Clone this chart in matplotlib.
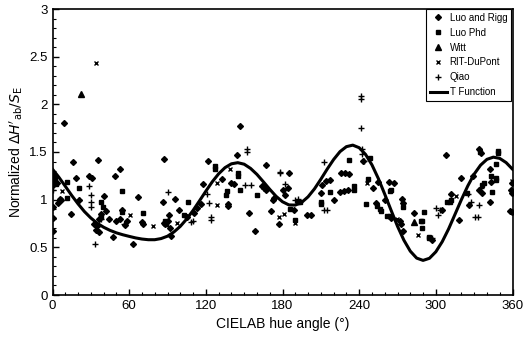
import matplotlib
matplotlib.use("Agg")
import matplotlib.pyplot as plt
from matplotlib.ticker import MultipleLocator, FormatStrFormatter

plt.rcParams['font.family'] = ['Liberation Sans', 'DejaVu Sans']

# --- datos ---
# Luo and Rigg (rombos)
LR_HUE = [0.5, 0.5, 0.5, 0.5, 0.5, 3.7, 5.5, 4.4, 6.3, 8.9, 14.1, 15.9, 18.5, 21.1, 28.4, 31, 35.7,
          40.2, 48.8, 52.7, 54.5, 36, 38, 32.3, 35, 33.8, 36.3, 47.5, 50, 53, 57, 44, 42, 66.8, 62.8,
          70, 71, 58, 87.6, 86.3, 95.5, 91, 87, 88, 90, 92, 93, 98.8, 105, 110.6, 113.2, 116.3, 117.9,
          121.5, 132.8, 146.6, 144, 140, 142, 137, 137.5, 154.1, 158.3, 166.7, 164, 165.5, 167, 171.1,
          173.2, 185.4, 172.7, 177, 180, 182, 184, 189, 199.3, 202.6, 210, 211, 214, 217.5, 220, 225,
          228, 231, 226, 229, 232, 251, 254.6, 253, 260.6, 263, 243, 267, 273.6, 274, 265.3, 272, 273,
          274, 283, 297, 305, 308, 319.8, 312, 318, 326, 329.2, 333.6, 335, 334, 336, 342.2, 343.5,
          342.7, 358.4, 359.6, 359.6, 359.6, 359.2]
LR_VAL = [1.20, 1.15, 0.92, 0.81, 0.67, 1.18, 1.01, 0.97, 1.00, 1.80, 0.85, 1.39, 1.23, 1.00, 1.25, 1.23, 1.42,
          1.04, 1.25, 1.32, 0.89, 0.80, 0.85, 0.75, 0.72, 0.68, 0.66, 0.61, 0.78, 0.80, 0.73, 0.80, 0.88, 1.03, 0.53,
          0.77, 0.75, 0.78, 1.43, 0.98, 1.01, 0.84, 0.76, 0.74, 0.78, 0.70, 0.62, 0.89, 0.82, 0.86, 0.91, 0.95, 1.16,
          1.41, 1.22, 1.77, 1.47, 1.18, 1.16, 0.95, 0.93, 0.86, 0.67, 1.36, 1.14, 1.12, 1.10, 0.88,
          1.02, 1.28, 1.00, 0.75, 1.10, 1.05, 1.12, 0.89, 0.84, 0.84, 1.07, 1.15, 1.20, 1.21, 1.00, 1.08,
          1.09, 1.10, 1.28, 1.28, 1.27, 1.12, 1.19, 0.97, 1.00, 1.19, 1.41, 1.18, 1.01, 0.96, 0.81, 0.78, 0.75,
          0.67, 0.86, 0.58, 0.89, 1.47, 1.23, 1.06, 0.79, 0.94, 1.25, 1.53, 1.49, 1.10, 1.07, 1.32, 1.19,
          0.98, 0.88, 0.87, 1.17, 1.07, 1.10]

# Luo Phd (cuadrados)
LP_HUE = [2, 3, 11.5, 11.5, 21.1, 38.3, 39.7, 37.6, 54.5, 54.5, 71, 88, 88.5, 102.7, 106.2, 127, 127,
          145, 145, 146.6, 136.2, 135.4, 160.2, 185.7, 192, 194, 190, 210, 210, 217, 232.4, 235.8,
          235.8, 248.3, 247, 245, 254, 256, 257, 262, 264, 264.5, 265, 274, 290.5, 288, 289, 289,
          294.4, 295, 308.8, 311, 312, 324.5, 336, 338, 343.5, 344, 347, 347, 347.4, 348.5, 348.5, 334.5]
LP_VAL = [1.22, 1.16, 1.19, 1.02, 1.12, 0.98, 0.92, 0.82, 1.09, 0.87, 0.86, 0.78, 0.75, 0.84, 0.98, 1.32, 1.35,
          1.28, 1.25, 1.10, 1.09, 1.05, 1.05, 0.90, 0.98, 0.98, 0.79, 0.95, 0.98, 1.08, 1.42, 1.14,
          1.10, 1.44, 1.22, 0.95, 0.93, 0.90, 0.88, 0.83, 0.83, 1.09, 1.10, 0.92, 0.87, 0.78, 0.78, 0.70,
          0.61, 0.60, 0.98, 0.98, 1.00, 1.07, 1.15, 1.18, 1.25, 1.08, 1.21, 1.23, 1.37, 1.51, 1.49, 1.50]

# Witt (triangulos)
WITT_HUE = [22.4, 1, 283.3]
WITT_VAL = [2.11, 1.27, 0.77]

# RIT-DuPont (cruces x)
RIT_HUE = [34.2, 7.6, 78.8, 97.6, 128.9, 138.8, 128.9, 177, 181, 190, 246.2, 269.7, 285.8, 316.1,
           359.6, 60.3]
RIT_VAL = [2.43, 1.09, 0.72, 0.76, 1.18, 1.32, 0.94, 0.82, 0.85, 0.76, 1.18, 0.80, 0.63, 1.04,
           1.20, 0.84]

# Qiao (cruces +)
QIAO_HUE = [0.5, 28.4, 30.5, 30.5, 30.5, 33.1, 21, 38, 56, 90.2, 108, 110, 121, 122.3, 124, 124,
            151, 155, 152.3, 152.5, 177.9, 178.4, 182.3, 190, 192, 212.8, 212.6, 215, 241.8, 241.8,
            241.8, 242, 242.3, 244, 300.2, 302, 303.6, 297, 327.9, 333.9, 330.4, 333, 335, 325]
QIAO_VAL = [1.10, 1.14, 1.05, 0.98, 0.92, 0.53, 1.00, 0.80, 0.75, 1.08, 0.77, 0.78, 1.06, 0.96, 0.82, 0.79,
            1.15, 1.15, 1.53, 1.50, 1.28, 1.29, 1.16, 1.00, 1.01, 1.39, 0.89, 0.89, 2.09, 2.06,
            1.75, 1.53, 1.48, 1.41, 0.91, 0.84, 0.89, 0.60, 0.98, 0.94, 0.82, 0.82, 1.12, 1.06]

# T Function, leida cada 5 grados
T_HUE = list(range(0, 361, 5))
T_VAL = [1.320, 1.235, 1.141, 1.045, 0.956, 0.875, 0.808, 0.753, 0.711, 0.678, 0.652, 0.632, 0.615,
         0.599, 0.587, 0.580, 0.580, 0.592, 0.617, 0.661, 0.720, 0.797, 0.887, 0.987, 1.089, 1.187,
         1.271, 1.336, 1.376, 1.388, 1.372, 1.328, 1.265, 1.188, 1.109, 1.035, 0.978, 0.945, 0.943,
         0.971, 1.030, 1.113, 1.214, 1.321, 1.421, 1.504, 1.556, 1.572, 1.545, 1.475, 1.365, 1.222,
         1.058, 0.888, 0.721, 0.575, 0.460, 0.387, 0.363, 0.385, 0.453, 0.559, 0.693, 0.846, 1.000,
         1.144, 1.268, 1.362, 1.423, 1.446, 1.433, 1.389, 1.320]

fig = plt.figure(figsize=(5.27, 3.40), dpi=100)
ax = fig.add_axes([52.5 / 527, 45 / 340, 460 / 527, 286 / 340])

ax.plot(LR_HUE, LR_VAL, 'D', color='black', markersize=3.0, linestyle='none', label='Luo and Rigg')
ax.plot(LP_HUE, LP_VAL, 's', color='black', markersize=3.3, linestyle='none', label='Luo Phd')
ax.plot(WITT_HUE, WITT_VAL, '^', color='black', markersize=4.0, linestyle='none', label='Witt')
ax.plot(RIT_HUE, RIT_VAL, 'x', color='black', markersize=3.5, mew=1.0, linestyle='none', label='RIT-DuPont')
ax.plot(QIAO_HUE, QIAO_VAL, '+', color='black', markersize=4.5, mew=1.0, linestyle='none', label='Qiao')
ax.plot(T_HUE, T_VAL, '-', color='black', linewidth=2.2, label='T Function', zorder=3)

ax.set_xlim(0, 360)
ax.set_ylim(0, 3)
ax.xaxis.set_major_locator(MultipleLocator(60))
ax.xaxis.set_minor_locator(MultipleLocator(10))
ax.yaxis.set_major_locator(MultipleLocator(0.5))
ax.yaxis.set_minor_locator(MultipleLocator(0.1))
ax.yaxis.set_major_formatter(FormatStrFormatter('%g'))
ax.tick_params(which='major', direction='in', length=4, width=1, labelsize=9.5, colors='black')
ax.tick_params(which='minor', direction='in', length=2, width=0.8)
for s in ax.spines.values():
    s.set_linewidth(1.2)

ax.set_xlabel('CIELAB hue angle (°)', fontsize=10, labelpad=4)
ax.set_ylabel(r"Normalized $\Delta H'_{\rm ab}/S_{\rm E}$", fontsize=10, labelpad=3)

leg = ax.legend(loc='upper right', bbox_to_anchor=(0.997, 1.0), fontsize=7, frameon=True,
                fancybox=False, edgecolor='black', framealpha=1, borderaxespad=0,
                handlelength=1.7, handletextpad=0.3, labelspacing=0.5, borderpad=0.4)
leg.get_frame().set_linewidth(0.8)

fig.savefig('out.png', dpi=100)
